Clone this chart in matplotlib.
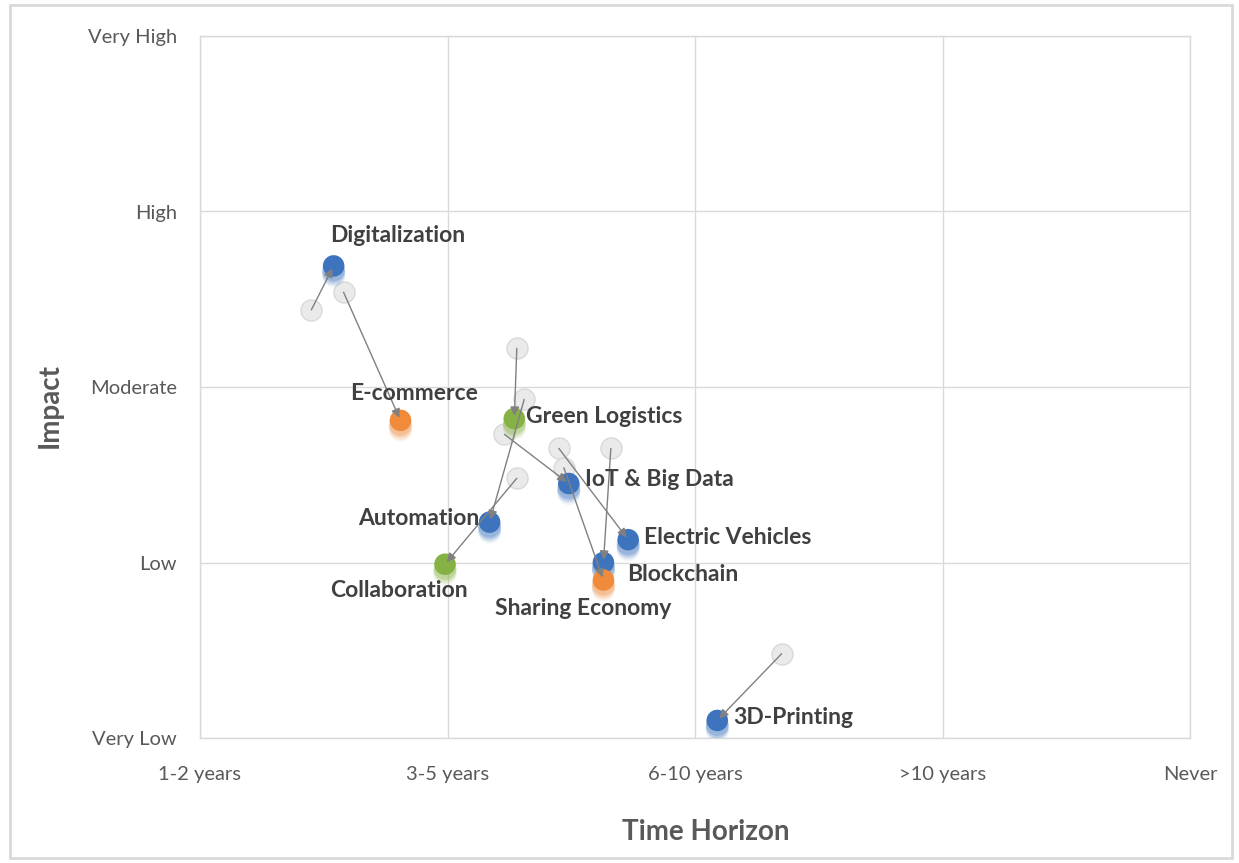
import matplotlib
matplotlib.use("Agg")
from matplotlib import pyplot as plt
from matplotlib import transforms
from matplotlib.patches import Rectangle

# --- data -------------------------------------------------------------
x_ticks = ['1-2 years', '3-5 years', '6-10 years', '>10 years', 'Never']
y_ticks = ['Very Low', 'Low', 'Moderate', 'High', 'Very High']

trends = ['Digitalization', 'E-commerce', 'Green Logistics', 'Automation',
          'IoT & Big Data', 'Collaboration', 'Electric Vehicles', 'Blockchain',
          'Sharing Economy', '3D-Printing']
old_x = [0.45, 0.58, 1.28, 1.31, 1.23, 1.28, 1.45, 1.66, 1.47, 2.35]
old_y = [2.44, 2.54, 2.22, 1.93, 1.73, 1.48, 1.65, 1.65, 1.54, 0.48]
new_x = [0.54, 0.81, 1.27, 1.17, 1.49, 0.99, 1.73, 1.63, 1.63, 2.09]
new_y = [2.69, 1.81, 1.82, 1.23, 1.45, 0.99, 1.13, 1.00, 0.90, 0.10]
group = ['tech', 'market', 'green', 'tech', 'tech', 'green', 'tech', 'tech',
         'market', 'tech']

colors = {'tech': '#3E74BE', 'market': '#EF8B3A', 'green': '#86B245'}
# label placement: (dx, dy) in pixels, ha, va
label_pos = {
    'Digitalization': (-4, 20, 'left', 'bottom'),
    'E-commerce': (14, 16, 'center', 'bottom'),
    'Green Logistics': (12, 2, 'left', 'center'),
    'Automation': (-10, 4, 'right', 'center'),
    'IoT & Big Data': (16, 4, 'left', 'center'),
    'Collaboration': (-46, -16, 'center', 'top'),
    'Electric Vehicles': (16, 2, 'left', 'center'),
    'Blockchain': (24, -12, 'left', 'center'),
    'Sharing Economy': (-20, -18, 'center', 'top'),
    '3D-Printing': (16, 3, 'left', 'center'),
}


def main():
    plt.rcParams['font.family'] = ['Lato', 'DejaVu Sans']
    fig = plt.figure(figsize=(12.39, 8.63), dpi=100)
    ax = fig.add_axes([200 / 1239, 1 - 738 / 863, 990 / 1239, 702 / 863])

    ax.set_xlim(0, 4)
    ax.set_ylim(0, 4)
    ax.set_xticks(range(5))
    ax.set_xticklabels(x_ticks)
    ax.set_yticks(range(5))
    ax.set_yticklabels(y_ticks)
    ax.tick_params(length=0, labelsize=14.5, labelcolor='#595959')
    ax.tick_params(axis='x', pad=20)
    ax.tick_params(axis='y', pad=16.5)
    ax.grid(True, color='#D9D9D9', lw=1)
    ax.set_axisbelow(True)
    for s in ax.spines.values():
        s.set_color('#D9D9D9')
        s.set_linewidth(1)

    ax.set_xlabel('Time Horizon', fontsize=20, fontweight='bold',
                  color='#595959')
    ax.set_ylabel('Impact', fontsize=20, fontweight='bold',
                  color='#595959')
    ax.xaxis.set_label_coords(0.511, -0.116)
    ax.yaxis.set_label_coords(-0.139, 0.474)

    # previous positions
    ax.scatter(old_x, old_y, s=230, color='#E8E8E8', edgecolor='#D6D6D6',
               lw=1, alpha=0.9, zorder=2)

    # soft shadows below the current markers
    for off, a in [(-10, 0.08), (-8, 0.14), (-6, 0.2), (-4, 0.25)]:
        tr = transforms.offset_copy(ax.transData, fig=fig, x=0, y=off,
                                    units='dots')
        ax.scatter(new_x, new_y, s=270, transform=tr, lw=0, alpha=a,
                   color=[colors[g] for g in group], zorder=3)

    ax.scatter(new_x, new_y, s=240, lw=0,
               color=[colors[g] for g in group], zorder=4)

    for i, name in enumerate(trends):
        ax.annotate('', xy=(new_x[i], new_y[i]), xytext=(old_x[i], old_y[i]),
                    arrowprops=dict(arrowstyle='-|>', color='#808080', lw=1,
                                    mutation_scale=13, shrinkA=0, shrinkB=2),
                    zorder=5)
        dx, dy, ha, va = label_pos[name]
        ax.annotate(name, xy=(new_x[i], new_y[i]), xytext=(dx, dy),
                    textcoords='offset pixels', ha=ha, va=va, fontsize=16.5,
                    fontweight='bold', color='#404040', zorder=6)

    fig.patches.append(Rectangle((10 / 1239, 5 / 863), 1222 / 1239, 853 / 863,
                                 transform=fig.transFigure, fill=False,
                                 edgecolor='#D9D9D9', lw=2))
    fig.savefig('out.png', dpi=100, facecolor='white')


if __name__ == '__main__':
    main()
